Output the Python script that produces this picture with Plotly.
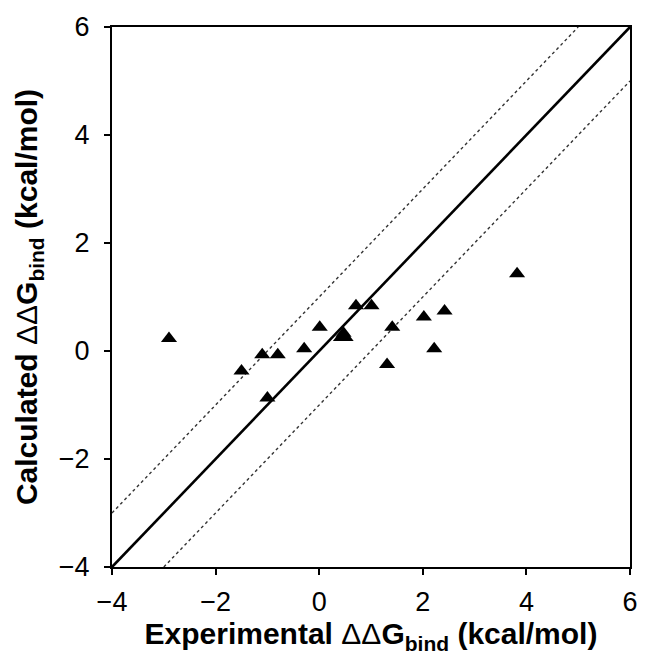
import plotly.graph_objects as go

# Experimental vs calculated ddG (kcal/mol)
exp_ddg = [-2.90, -1.50, -1.10, -0.80, -1.00, -0.29, 0.01, 0.42, 0.51, 0.47,
           0.71, 1.01, 1.41, 1.31, 2.02, 2.42, 2.22, 3.82]
calc_ddg = [0.23, -0.37, -0.07, -0.07, -0.87, 0.04, 0.44, 0.25, 0.25, 0.33,
            0.84, 0.84, 0.44, -0.25, 0.63, 0.74, 0.04, 1.43]

axis_range = [-4, 6]
tick_vals = [-4, -2, 0, 2, 4, 6]
band = 1.0

fig = go.Figure()

# identity line
fig.add_trace(go.Scatter(x=axis_range, y=axis_range, mode="lines",
                         line=dict(color="black", width=2.6), hoverinfo="skip"))
# +/- 1 kcal/mol dotted lines
fig.add_trace(go.Scatter(x=[axis_range[0], axis_range[1] - band],
                         y=[axis_range[0] + band, axis_range[1]], mode="lines",
                         line=dict(color="#333", width=1.4, dash="dot"), hoverinfo="skip"))
fig.add_trace(go.Scatter(x=[axis_range[0] + band, axis_range[1]],
                         y=[axis_range[0], axis_range[1] - band], mode="lines",
                         line=dict(color="#333", width=1.4, dash="dot"), hoverinfo="skip"))
# data
fig.add_trace(go.Scatter(x=exp_ddg, y=calc_ddg, mode="markers",
                         marker=dict(symbol="triangle-up", size=14, color="black",
                                     line=dict(width=0))))

font_family = "Liberation Sans, Arial, Helvetica, sans-serif"
axis_common = dict(range=axis_range, tickvals=tick_vals, showgrid=False, zeroline=False,
                   showline=True, linecolor="black", linewidth=2, mirror=True,
                   ticks="outside", ticklen=6, tickwidth=2, tickcolor="black",
                   tickfont=dict(size=27, color="black", family=font_family))

fig.update_layout(
    width=650, height=664, showlegend=False,
    paper_bgcolor="white", plot_bgcolor="white",
    margin=dict(l=112, r=12, t=26, b=97),
    font=dict(family=font_family, color="black"),
    xaxis=dict(**axis_common, ticklabelstandoff=4,
               title=dict(text="<b>Experimental</b> ΔΔ<b>G<sub>bind</sub> (kcal/mol)</b>",
                          font=dict(size=30), standoff=6)),
    yaxis=dict(**axis_common, ticklabelstandoff=9,
               title=dict(text="<b>Calculated</b> ΔΔ<b>G<sub>bind</sub> (kcal/mol)</b>",
                          font=dict(size=30), standoff=12)),
)

fig.write_html("out.html", config={"displayModeBar": False},
               post_script="document.body.style.margin='0';")
